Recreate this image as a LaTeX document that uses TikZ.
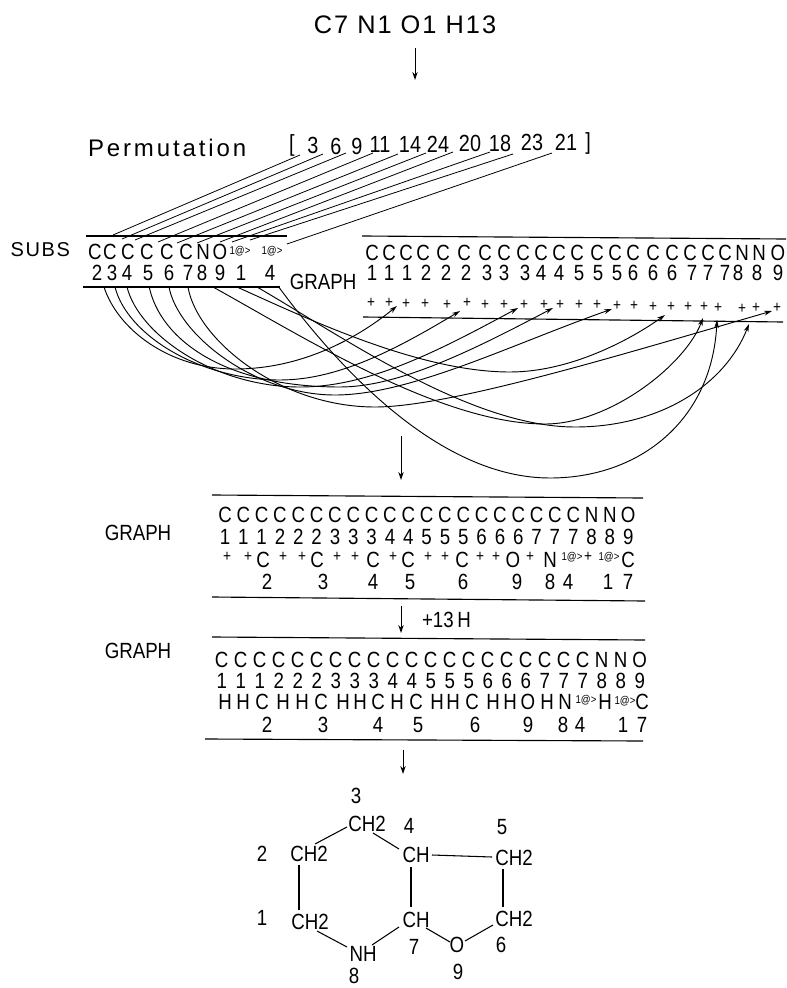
\documentclass[tikz,border=0pt]{standalone}
\usepackage{fontspec}
\setmainfont[FakeStretch=0.85]{Liberation Sans}
\newfontfamily\spacedfont[LetterSpace=12]{Liberation Sans}
\newfontfamily\titlefont[LetterSpace=8]{Liberation Sans}
\usetikzlibrary{arrows.meta,calc}
\tikzset{
  glyph/.style={inner sep=0pt,outer sep=0pt,font=\fontsize{16.5}{16.5}\selectfont},
  bigtext/.style={inner sep=0pt,outer sep=0pt,font=\fontsize{17.5}{17.5}\selectfont},
  plusmark/.style={inner sep=0pt,outer sep=0pt,font=\fontsize{12}{12}\selectfont},
  tiny1/.style={inner sep=0pt,outer sep=0pt,font=\fontsize{8.5}{8.5}\selectfont},
  rulehz/.style={line width=0.85pt,black},
  linkline/.style={line width=0.6pt,black},
  arcline/.style={line width=0.7pt,black,-{Stealth[length=6pt,width=3.6pt]}},
  downarrow/.style={line width=0.75pt,black,-{Stealth[length=6pt,width=4pt]}},
  bond/.style={line width=0.8pt,black}
}
\begin{document}
\begin{tikzpicture}[x=0.75pt,y=-0.75pt]
\useasboundingbox (0,0) rectangle (787,988);
% title
\node[inner sep=0pt,outer sep=0pt,font=\titlefont\fontsize{19}{19}\selectfont] (title) at (405,25) {C7 N1 O1 H13};
\coordinate (a1end) at (415,80);
\draw[downarrow] (title.south -| a1end) ++(0,14) -- (a1end);
% permutation
\node[inner sep=0pt,outer sep=0pt,anchor=west,font=\spacedfont\fontsize{18}{18}\selectfont] (permlabel) at (88,148) {Permutation};
\node[bigtext] (lb) at (292,145) {[};
\foreach \x/\t/\y [count=\i] in {313/3/145,336/6/146,357/9/146,380/11/144,410/14/144,438/24/144,470/20/143,500/18/143,532/23/142,566/21/142}
  \node[bigtext] (p\i) at (\x,\y) {\t};
\node[bigtext] (rb) at (588,143) {]};
% SUBS block
\draw[rulehz] (86,236) -- (287,236);
\draw[rulehz] (83,287) -- (280,287);
\node[inner sep=0pt,outer sep=0pt,anchor=east,font=\titlefont\fontsize{15}{15}\selectfont] (subs) at (70,250) {SUBS};
\foreach \x/\t [count=\i] in {95/C,110/C,128/C,147/C,167/C,186/C,203/N,220/O}
  \node[glyph] (s\i) at (\x,252) {\t};
\node[tiny1] (s9) at (240,251) {1@>};
\node[tiny1] (s10) at (272,251) {1@>};
\foreach \x/\t [count=\i] in {97/2,112/3,127/4,148/5,169/6,188/7,202/8,220/9,241/1,270/4}
  \node[glyph] (d\i) at (\x,273) {\t};
\node[glyph] (g0) at (323,282) {GRAPH};
% permutation links
\foreach \i/\dxa/\dya/\dxb/\dyb in {1/-13/10/18/-17,2/-13/8/12/-13,3/-11/7/7/-12,4/-7/9/11/-10,5/-12/10/10/-9,6/-12/9/11/-9,7/-17/9/17/-10,8/-10/9/12/-10,9/-19/12/10/-11,10/-14/11/15/-7}
  \draw[linkline] ($(p\i)+(\dxa,\dya)$) -- ($(s\i)+(\dxb,\dyb)$);
% right block
\draw[rulehz] (362,236) -- (786,239);
\draw[rulehz] (363,317) -- (783,322);
\foreach \x/\t [count=\i] in {372/C,389/C,406/C,423/C,443/C,464/C,485/C,504/C,523/C,541/C,559/C,577/C,597/C,615/C,633/C,653/C,672/C,690/C,708/C,725/C,742/N,759/N,778/O}
  \node[glyph] (r\i) at (\x,253) {\t};
\foreach \x/\t [count=\i] in {372/1,389/1,407/1,426/2,446/2,466/2,487/3,504/3,525/3,541/4,559/4,579/5,598/5,617/5,633/6,653/6,672/6,692/7,708/7,725/7,738/8,757/8,778/9}
  \node[glyph] (u\i) at (\x,273) {\t};
\foreach \x/\y [count=\i] in {371/303,389/303,406/304,425/304,447/305,467/303,485/305,504/305,524/305,544/305,560/305,579/305,597/305,617/306,634/306,653/307,671/307,688/307,704/307,718/308,742/309,756/308,777/308}
  \node[plusmark] (q\i) at (\x,\y) {+};
% arcs
\coordinate (as1) at ($(d1)+(7,14)$);   \coordinate (ae1) at ($(q3)+(-9,2)$);
\coordinate (as2) at ($(d2)+(3,14)$);   \coordinate (ae2) at ($(q6)+(-7,8)$);
\coordinate (as3) at ($(d3)+(0,14)$);   \coordinate (ae3) at ($(q9)+(-6,3)$);
\coordinate (as4) at ($(d4)+(1,13)$);   \coordinate (ae4) at ($(q11)+(-7,3)$);
\coordinate (as5) at ($(d5)+(0,14)$);   \coordinate (ae5) at ($(q14)+(-5,3)$);
\coordinate (as6) at ($(d6)+(0,14)$);   \coordinate (ae6) at ($(q23)+(-5,3)$);
\coordinate (as7) at ($(d7)+(11,14)$);  \coordinate (ae7) at ($(q19)+(-1,11)$);
\coordinate (as8) at ($(d8)+(17,14)$);  \coordinate (ae8) at ($(q17)+(-6,8)$);
\coordinate (as9) at ($(d9)+(16,14)$);  \coordinate (ae9) at ($(q22)+(-7,16)$);
\coordinate (as10) at ($(d10)+(8,13)$); \coordinate (ae10) at ($(q20)+(-1,12)$);
\draw[arcline] (as1) .. controls (118,330) and (170,369) .. (235,369) .. controls (300,369) and (355,340) .. (ae1);
\draw[arcline] (as2) .. controls (127,335) and (200,380) .. (280,380) .. controls (340,380) and (400,347) .. (ae2);
\draw[arcline] (as3) .. controls (139,335) and (215,387) .. (300,387) .. controls (370,387) and (440,350) .. (ae3);
\draw[arcline] (as4) .. controls (160,340) and (225,387) .. (340,387) .. controls (400,387) and (475,349) .. (ae4);
\draw[arcline] (as5) .. controls (178,335) and (255,395) .. (335,395) .. controls (410,395) and (510,345) .. (ae5);
\draw[arcline] (as6) .. controls (197,340) and (280,407) .. (375,407) .. controls (450,407) and (620,355) .. (ae6);
\draw[arcline] (as7) .. controls (300,335) and (440,424) .. (545,424) .. controls (610,424) and (685,365) .. (ae7);
\draw[arcline] (as8) .. controls (310,320) and (420,372) .. (510,372) .. controls (570,372) and (630,340) .. (ae8);
\draw[arcline] (as9) .. controls (340,335) and (470,427) .. (575,427) .. controls (660,427) and (725,385) .. (ae9);
\draw[arcline] (as10) .. controls (340,370) and (440,478) .. (550,478) .. controls (640,478) and (712,420) .. (ae10);
% down arrow
\coordinate (a2s) at (401,436); \coordinate (a2e) at (401,480);
\draw[downarrow] (a2s) -- (a2e);
% Block 1
\draw[rulehz] (212,495) -- (643,498);
\draw[rulehz] (212,597) -- (645,601);
\node[glyph] (g1) at (138,533) {GRAPH};
\foreach \t [count=\i,evaluate=\i as \x using 225+18.33*(\i-1)] in {C,C,C,C,C,C,C,C,C,C,C,C,C,C,C,C,C,C,C,C,N,N,O}
  \node[glyph] (ba\i) at (\x,515) {\t};
\foreach \t [count=\i,evaluate=\i as \x using 225+18.33*(\i-1)] in {1,1,1,2,2,2,3,3,3,4,4,5,5,5,6,6,6,7,7,7,8,8,9}
  \node[glyph] (bb\i) at (\x,537) {\t};
\foreach \x in {227,248,283,302,337,355,393,428,445,480,496,530,588}
  \node[plusmark] at (\x,557) {+};
\foreach \x/\t in {263/C,317/C,373/C,408/C,462/C,513/O,550/N,628/C}
  \node[glyph] at (\x,560) {\t};
\node[tiny1] at (572,557) {1@>};
\node[tiny1] at (609,557) {1@>};
\foreach \x/\t in {267/2,323/3,373/4,410/5,463/6,517/9,550/8,568/4,608/1,628/7}
  \node[glyph] at (\x,582) {\t};
% +13H
\coordinate (a3s) at (401,606); \coordinate (a3e) at (401,633);
\draw[downarrow] (a3s) -- (a3e);
\node[glyph,anchor=west] (h13) at (422,620) {+13\,H};
% Block 2
\draw[rulehz] (212,637) -- (645,640);
\draw[rulehz] (205,739) -- (643,741);
\node[glyph] (g2) at (138,651) {GRAPH};
\foreach \t [count=\i,evaluate=\i as \x using 221.7+19*(\i-1)] in {C,C,C,C,C,C,C,C,C,C,C,C,C,C,C,C,C,C,C,C,N,N,O}
  \node[glyph] (ca\i) at (\x,660) {\t};
\foreach \t [count=\i,evaluate=\i as \x using 221.7+19*(\i-1)] in {1,1,1,2,2,2,3,3,3,4,4,5,5,5,6,6,6,7,7,7,8,8,9}
  \node[glyph] (cb\i) at (\x,681) {\t};
\foreach \x/\t in {225/H,243/H,262/C,283/H,302/H,321/C,343/H,360/H,378/C,397/H,416/C,437/H,453/H,472/C,493/H,510/H,528/O,547/H,565/N,605/H,642/C}
  \node[glyph] at (\x,702) {\t};
\node[tiny1] at (586,700) {1@>};
\node[tiny1] at (625,701) {1@>};
\foreach \x/\t in {267/2,323/3,378/4,418/5,475/6,528/9,563/8,580/4,623/1,642/7}
  \node[glyph] at (\x,725) {\t};
% down arrow to molecule
\coordinate (a4s) at (403,750); \coordinate (a4e) at (403,774);
\draw[downarrow] (a4s) -- (a4e);
% molecule
\node[glyph] (ma) at (367,824) {CH2};
\node[glyph] (mb) at (309,854) {CH2};
\node[glyph] (mc) at (416,855) {CH};
\node[glyph] (md) at (514,858) {CH2};
\node[glyph] (me) at (310,922) {CH2};
\node[glyph] (mf) at (416,920) {CH};
\node[glyph] (mg) at (514,919) {CH2};
\node[glyph] (mh) at (363,954) {NH};
\node[glyph] (mo) at (457,945) {O};
\foreach \x/\y/\t in {356/796/3,409/826/4,502/827/5,262/854/2,262/918/1,414/947/7,501/945/6,458/972/9,354/976/8}
  \node[glyph] at (\x,\y) {\t};
\draw[bond] ($(mb)+(6,-10)$) -- ($(ma)+(-20,3)$);
\draw[bond] ($(ma)+(6,9)$) -- ($(mc)+(-17,-6)$);
\draw[bond] ($(mc)+(16,0)$) -- ($(md)+(-22,-1)$);
\draw[bond] ($(mb)+(-10,11)$) -- ($(me)+(-11,-12)$);
\draw[bond] ($(mc)+(-5,12)$) -- ($(mf)+(-5,-13)$);
\draw[bond] ($(md)+(-11,11)$) -- ($(mg)+(-11,-12)$);
\draw[bond] ($(me)+(7,9)$) -- ($(mh)+(-16,-7)$);
\draw[bond] ($(mh)+(9,-9)$) -- ($(mf)+(-17,7)$);
\draw[bond] ($(mf)+(10,8)$) -- ($(mo)+(-7,-3)$);
\draw[bond] ($(mo)+(8,-4)$) -- ($(mg)+(-21,6)$);
\end{tikzpicture}
\end{document}
